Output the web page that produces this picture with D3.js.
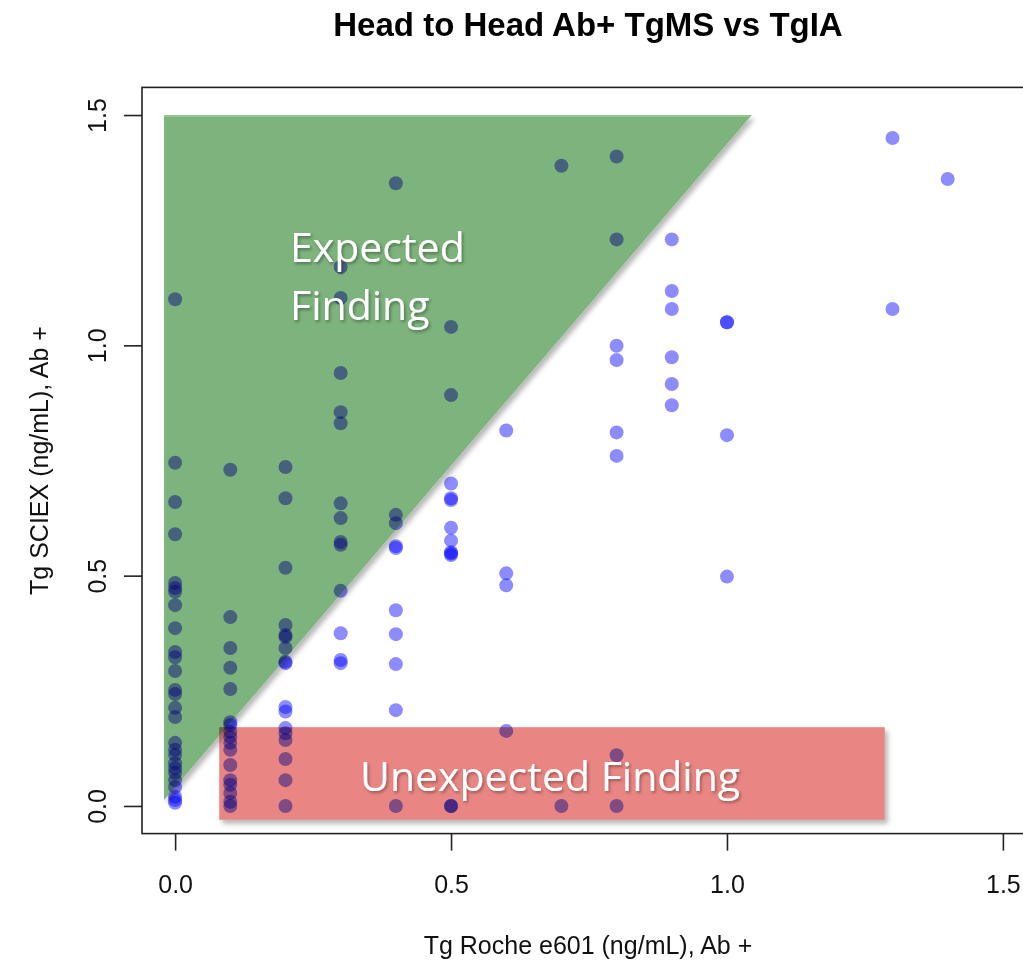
<!DOCTYPE html>
<html>
<head>
<meta charset="utf-8">
<script src="https://cdn.jsdelivr.net/npm/d3@7"></script>
<style>
  html, body { margin: 0; padding: 0; background: #fff; }
  svg { display: block; }
</style>
</head>
<body>
<svg id="chart" width="1023" height="969"></svg>
<script>
// ---------- data ----------
const rocheLevels = [0.0, 0.1, 0.2, 0.3, 0.4, 0.5, 0.6, 0.7, 0.8, 0.9, 1.0, 1.3, 1.4];
const sciexAtRoche00 = [1.10, 0.745, 0.66, 0.59, 0.484, 0.473, 0.465, 0.436, 0.386, 0.334, 0.323, 0.293, 0.252, 0.243, 0.213, 0.193, 0.137, 0.122, 0.111, 0.093, 0.082, 0.072, 0.056, 0.041, 0.02, 0.013, 0.007];
const sciexAtRoche01 = [0.73, 0.41, 0.343, 0.30, 0.254, 0.182, 0.176, 0.161, 0.15, 0.137, 0.122, 0.089, 0.056, 0.046, 0.028, 0.009, 0.0];
const sciexAtRoche02 = [0.736, 0.668, 0.517, 0.393, 0.371, 0.367, 0.343, 0.313, 0.31, 0.215, 0.205, 0.169, 0.158, 0.143, 0.102, 0.056, 0.0];
const sciexAtRoche03 = [1.17, 1.103, 0.94, 0.855, 0.831, 0.657, 0.625, 0.573, 0.567, 0.467, 0.375, 0.317, 0.31];
const sciexAtRoche04 = [1.352, 0.632, 0.614, 0.564, 0.56, 0.425, 0.373, 0.308, 0.208, 0.0];
const sciexAtRoche05 = [1.04, 0.892, 0.70, 0.668, 0.664, 0.604, 0.576, 0.551, 0.548, 0.545, 0.0, 0.0];
const sciexAtRoche06 = [0.815, 0.505, 0.479, 0.163];
const sciexAtRoche07 = [1.39, 0.0];
const sciexAtRoche08 = [1.41, 1.23, 0.999, 0.968, 0.811, 0.76, 0.11, 0.0];
const sciexAtRoche09 = [1.23, 1.118, 1.079, 0.974, 0.916, 0.87];
const sciexAtRoche10 = [1.05, 1.05, 0.805, 0.498];
const sciexAtRoche13 = [1.45, 1.079];
const sciexAtRoche14 = [1.361];
const sciexColumns = [sciexAtRoche00, sciexAtRoche01, sciexAtRoche02, sciexAtRoche03, sciexAtRoche04, sciexAtRoche05, sciexAtRoche06, sciexAtRoche07, sciexAtRoche08, sciexAtRoche09, sciexAtRoche10, sciexAtRoche13, sciexAtRoche14];

const xTicks = [0.0, 0.5, 1.0, 1.5];
const yTicks = [0.0, 0.5, 1.0, 1.5];

const titleText = "Head to Head Ab+ TgMS vs TgIA";
const xLabel = "Tg Roche e601 (ng/mL), Ab +";
const yLabel = "Tg SCIEX (ng/mL), Ab +";

// annotation regions (data units)
const expectedRegion = [[-0.02, 1.5], [1.045, 1.5], [-0.02, 0.013]];
const unexpectedRegion = { x0: 0.08, x1: 1.286, y0: -0.03, y1: 0.171 };
const expectedLines = ["Expected", "Finding"];
const unexpectedText = "Unexpected Finding";

// ---------- build ----------
const points = [];
rocheLevels.forEach((r, i) => sciexColumns[i].forEach(s => points.push({ x: r, y: s })));

const svg = d3.select("#chart");
const x = d3.scaleLinear().domain([-0.06, 1.56]).range([142, 1036]);
const y = d3.scaleLinear().domain([-0.06, 1.56]).range([833.6, 87.4]);

const defs = svg.append("defs");
const sh = defs.append("filter").attr("id", "shapeShadow")
  .attr("x", "-10%").attr("y", "-10%").attr("width", "130%").attr("height", "140%");
sh.append("feDropShadow").attr("dx", 3).attr("dy", 4).attr("stdDeviation", 2.5)
  .attr("flood-color", "#000").attr("flood-opacity", 0.28);
const tsh = defs.append("filter").attr("id", "textShadow")
  .attr("x", "-10%").attr("y", "-20%").attr("width", "130%").attr("height", "160%");
tsh.append("feDropShadow").attr("dx", 1.5).attr("dy", 2).attr("stdDeviation", 1.5)
  .attr("flood-color", "#000").attr("flood-opacity", 0.35);

// points
svg.append("g").selectAll("circle").data(points).join("circle")
  .attr("cx", d => x(d.x)).attr("cy", d => y(d.y)).attr("r", 7)
  .attr("fill", "rgb(0,0,255)").attr("fill-opacity", 0.45);

// overlays (multiply blend)
svg.append("path")
  .attr("d", d3.line().x(d => x(d[0])).y(d => y(d[1]))(expectedRegion) + "Z")
  .attr("fill", "#7db37c")
  .attr("filter", "url(#shapeShadow)")
  .style("mix-blend-mode", "multiply");
svg.append("line")
  .attr("x1", x(expectedRegion[0][0])).attr("x2", x(expectedRegion[1][0]) - 2)
  .attr("y1", y(expectedRegion[0][1]) + 1).attr("y2", y(expectedRegion[0][1]) + 1)
  .attr("stroke", "#92c691").attr("stroke-width", 2);

svg.append("rect")
  .attr("x", x(unexpectedRegion.x0)).attr("y", y(unexpectedRegion.y1))
  .attr("width", x(unexpectedRegion.x1) - x(unexpectedRegion.x0))
  .attr("height", y(unexpectedRegion.y0) - y(unexpectedRegion.y1))
  .attr("fill", "#e98683")
  .attr("filter", "url(#shapeShadow)")
  .style("mix-blend-mode", "multiply");

// annotation text
const annFont = "'Open Sans', 'Noto Sans', sans-serif";
svg.append("text").attr("x", 290).attr("y", 262)
  .attr("font-family", annFont).attr("font-size", 41).attr("fill", "#fff")
  .attr("filter", "url(#textShadow)")
  .text(expectedLines[0]);
svg.append("text").attr("x", 290).attr("y", 320)
  .attr("font-family", annFont).attr("font-size", 41).attr("fill", "#fff")
  .attr("filter", "url(#textShadow)")
  .text(expectedLines[1]);
svg.append("text").attr("x", 360).attr("y", 791)
  .attr("font-family", annFont).attr("font-size", 41).attr("fill", "#fff")
  .attr("filter", "url(#textShadow)")
  .text(unexpectedText);

// box
svg.append("rect")
  .attr("x", x(-0.06)).attr("y", y(1.56))
  .attr("width", x(1.56) - x(-0.06)).attr("height", y(-0.06) - y(1.56))
  .attr("fill", "none").attr("stroke", "#222").attr("stroke-width", 1.6);

const axisFont = "'Liberation Sans', Arial, Helvetica, sans-serif";
// x axis
const gx = svg.append("g").attr("transform", `translate(0,${y(-0.06)})`)
  .call(d3.axisBottom(x).tickValues(xTicks).tickSize(17).tickPadding(25)
    .tickFormat(d3.format(".1f")));
gx.select(".domain").remove();
gx.selectAll("line").attr("stroke", "#222").attr("stroke-width", 1.6);
gx.selectAll("text").attr("font-family", axisFont).attr("font-size", 25).attr("fill", "#111");

// y axis
const gy = svg.append("g").attr("transform", `translate(${x(-0.06)},0)`)
  .call(d3.axisLeft(y).tickValues(yTicks).tickSize(18).tickFormat(d3.format(".1f")));
gy.select(".domain").remove();
gy.selectAll("line").attr("stroke", "#222").attr("stroke-width", 1.6);
gy.selectAll("text")
  .attr("font-family", axisFont).attr("font-size", 25).attr("fill", "#111")
  .attr("transform", "rotate(-90)")
  .attr("x", 0).attr("y", -36).attr("dy", 0)
  .attr("text-anchor", "middle");

// title and labels
svg.append("text").attr("x", 588).attr("y", 36).attr("text-anchor", "middle")
  .attr("font-family", axisFont).attr("font-weight", "bold").attr("font-size", 33)
  .attr("fill", "#000").text(titleText);
svg.append("text").attr("x", 588).attr("y", 954).attr("text-anchor", "middle")
  .attr("font-family", axisFont).attr("font-size", 25).attr("fill", "#111").text(xLabel);
svg.append("text").attr("transform", `translate(48,${(y(-0.06) + y(1.56)) / 2}) rotate(-90)`)
  .attr("text-anchor", "middle")
  .attr("font-family", axisFont).attr("font-size", 25).attr("fill", "#111").text(yLabel);
</script>
</body>
</html>
